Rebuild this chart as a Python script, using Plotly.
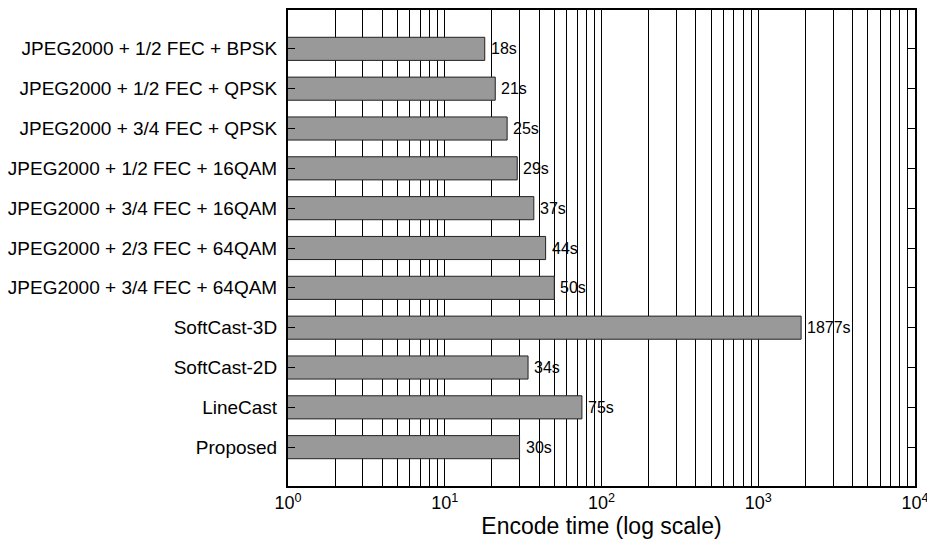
import math
import plotly.graph_objects as go

categories = [
    "JPEG2000 + 1/2 FEC + BPSK",
    "JPEG2000 + 1/2 FEC + QPSK",
    "JPEG2000 + 3/4 FEC + QPSK",
    "JPEG2000 + 1/2 FEC + 16QAM",
    "JPEG2000 + 3/4 FEC + 16QAM",
    "JPEG2000 + 2/3 FEC + 64QAM",
    "JPEG2000 + 3/4 FEC + 64QAM",
    "SoftCast-3D",
    "SoftCast-2D",
    "LineCast",
    "Proposed",
]
encode_times = [18, 21, 25, 29, 37, 44, 50, 1877, 34, 75, 30]
bar_labels = [f"{v}s" for v in encode_times]
x_tickvals = [1, 10, 100, 1000, 10000]
x_ticktext = ["10<sup>0</sup>", "10<sup>1</sup>", "10<sup>2</sup>", "10<sup>3</sup>", "10<sup>4</sup>"]
minor_vals = [m * d for d in [1, 10, 100, 1000] for m in range(2, 10)]

FONT = "Liberation Sans, Arial, sans-serif"

fig = go.Figure()
fig.add_trace(go.Bar(
    x=encode_times,
    y=categories,
    orientation="h",
    width=0.58,
    marker=dict(color="#999999", line=dict(color="#222222", width=1)),
))

for v, c, t in zip(encode_times, categories, bar_labels):
    fig.add_annotation(
        x=math.log10(v), y=c, xref="x", yref="y",
        text=t, showarrow=False,
        xanchor="left", yanchor="middle", xshift=4,
        font=dict(size=16, color="black", family=FONT),
    )

# page body has an 8px default margin; compensate so the plot lands where the reference's does
fig.update_layout(
    width=927, height=536,
    margin=dict(l=279, r=20, t=0, b=58, pad=0),
    paper_bgcolor="white",
    plot_bgcolor="white",
    showlegend=False,
    font=dict(family=FONT, color="black", size=19),
)
fig.update_xaxes(
    type="log",
    range=[0, 4],
    tickvals=x_tickvals,
    ticktext=x_ticktext,
    tickfont=dict(size=18),
    showgrid=True, gridcolor="black", gridwidth=1,
    minor=dict(tickvals=minor_vals, showgrid=True, gridcolor="black", gridwidth=1, ticks=""),
    showline=True, linecolor="black", linewidth=1.5, mirror=True,
    ticks="", zeroline=False,
    title=dict(text="Encode time (log scale)", font=dict(size=23), standoff=0),
)
fig.update_yaxes(
    type="category",
    categoryorder="array", categoryarray=categories,
    range=[10.975, -0.975],
    tickfont=dict(size=19),
    showgrid=False,
    showline=True, linecolor="black", linewidth=1.5, mirror="ticks",
    ticks="inside", ticklen=7, tickcolor="black",
    ticksuffix=" ",
)

fig.write_html("out.html")
